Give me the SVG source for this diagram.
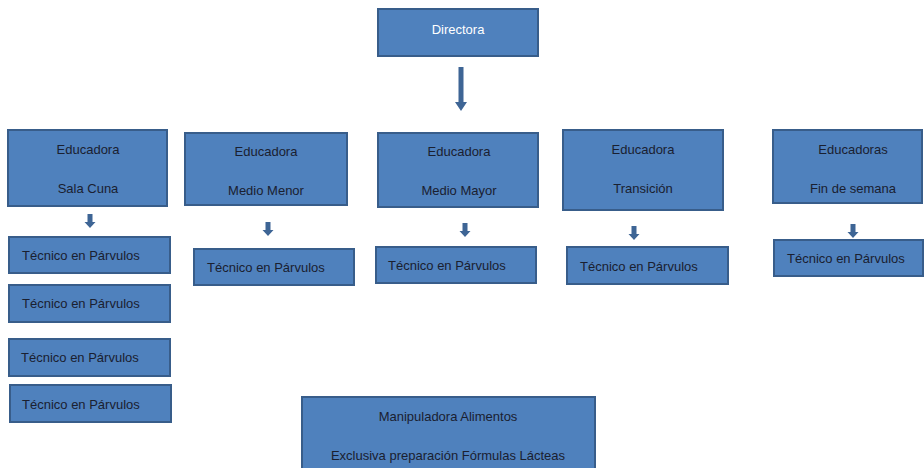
<svg xmlns="http://www.w3.org/2000/svg" width="924" height="468" viewBox="0 0 924 468">
  <style>
    .box { fill: #4f81bd; stroke: #385d8a; stroke-width: 2; }
    .lbl { font-family: "Liberation Sans", Arial, sans-serif; font-size: 13px; fill: #1a2030; }
    .c { text-anchor: middle; }
    .w { fill: #ffffff; }
    .arrow { fill: #3e6595; }
  </style>
  <defs>
    <!-- small block arrow pointing down, origin at its top centre -->
    <path id="down" d="M -2.5 0 H 2.5 V 8 H 5.5 L 0 14 L -5.5 8 H -2.5 Z"/>
  </defs>
  <rect width="924" height="468" fill="#ffffff"/>

  <g id="connectors" class="arrow">
    <path d="M 458.5 67 H 463.5 V 102 H 467 L 461 111 L 455 102 H 458.5 Z"/>
    <use href="#down" x="90" y="214"/>
    <use href="#down" x="268" y="222"/>
    <use href="#down" x="465" y="223"/>
    <use href="#down" x="634" y="226"/>
    <use href="#down" x="853" y="224"/>
  </g>

  <g id="directora">
    <rect class="box" x="378" y="9" width="160" height="47"/>
    <text class="lbl c w" x="458" y="34">Directora</text>
  </g>

  <g id="educadora-sala-cuna">
    <rect class="box" x="8" y="130" width="159" height="76"/>
    <text class="lbl c" x="88" y="154">Educadora</text>
    <text class="lbl c" x="88" y="193">Sala Cuna</text>
  </g>
  <g id="tecnico-sala-cuna-1">
    <rect class="box" x="9" y="237" width="161" height="36"/>
    <text class="lbl" x="22" y="260">Técnico en Párvulos</text>
  </g>
  <g id="tecnico-sala-cuna-2">
    <rect class="box" x="9" y="285" width="161" height="37"/>
    <text class="lbl" x="22" y="308">Técnico en Párvulos</text>
  </g>
  <g id="tecnico-sala-cuna-3">
    <rect class="box" x="9" y="339" width="161" height="37"/>
    <text class="lbl" x="21" y="362">Técnico en Párvulos</text>
  </g>
  <g id="tecnico-sala-cuna-4">
    <rect class="box" x="10" y="385" width="161" height="37"/>
    <text class="lbl" x="22" y="409">Técnico en Párvulos</text>
  </g>

  <g id="educadora-medio-menor">
    <rect class="box" x="185" y="133" width="162" height="72"/>
    <text class="lbl c" x="266" y="156">Educadora</text>
    <text class="lbl c" x="266" y="195">Medio Menor</text>
  </g>
  <g id="tecnico-medio-menor">
    <rect class="box" x="194" y="249" width="160" height="36"/>
    <text class="lbl" x="207" y="272">Técnico en Párvulos</text>
  </g>

  <g id="educadora-medio-mayor">
    <rect class="box" x="378" y="133" width="160" height="74"/>
    <text class="lbl c" x="459" y="156">Educadora</text>
    <text class="lbl c" x="459" y="195">Medio Mayor</text>
  </g>
  <g id="tecnico-medio-mayor">
    <rect class="box" x="376" y="247" width="160" height="36"/>
    <text class="lbl" x="388" y="270">Técnico en Párvulos</text>
  </g>

  <g id="educadora-transicion">
    <rect class="box" x="563" y="130" width="160" height="80"/>
    <text class="lbl c" x="643" y="154">Educadora</text>
    <text class="lbl c" x="643" y="193">Transición</text>
  </g>
  <g id="tecnico-transicion">
    <rect class="box" x="567" y="247" width="161" height="37"/>
    <text class="lbl" x="580" y="271">Técnico en Párvulos</text>
  </g>

  <g id="educadoras-fin-de-semana">
    <rect class="box" x="773" y="130" width="149" height="73"/>
    <text class="lbl c" x="853" y="154">Educadoras</text>
    <text class="lbl c" x="853" y="193">Fin de semana</text>
  </g>
  <g id="tecnico-fin-de-semana">
    <rect class="box" x="774" y="240" width="149" height="36"/>
    <text class="lbl" x="787" y="263">Técnico en Párvulos</text>
  </g>

  <g id="manipuladora">
    <rect class="box" x="302" y="397" width="293" height="80"/>
    <text class="lbl c" x="448" y="421">Manipuladora Alimentos</text>
    <text class="lbl c" x="448" y="460">Exclusiva preparación Fórmulas Lácteas</text>
  </g>
</svg>
